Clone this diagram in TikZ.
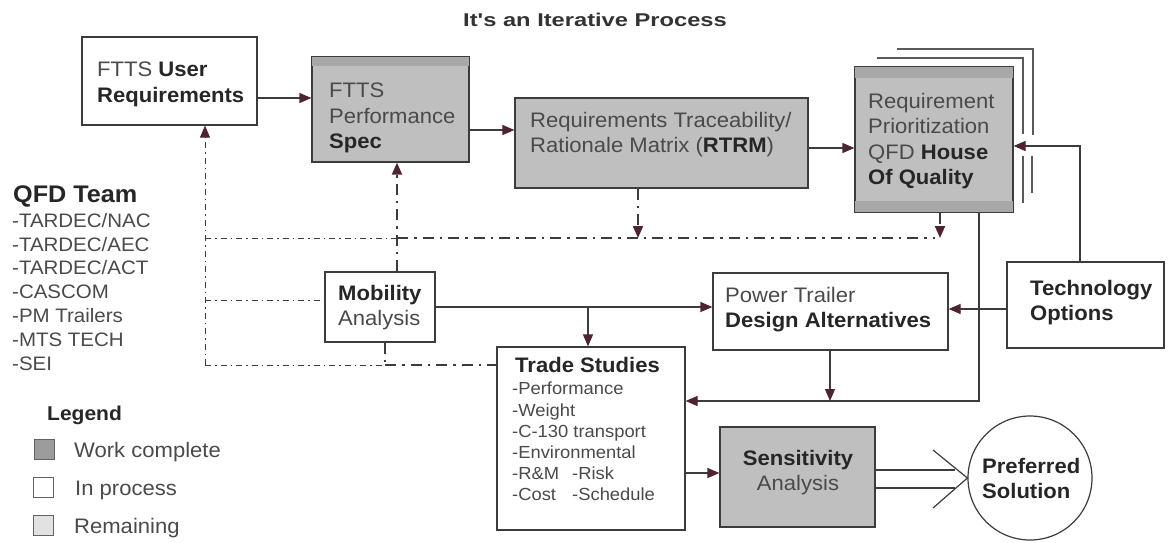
\documentclass[tikz,border=0pt]{standalone}
\usepackage{fontspec}
\setmainfont{Liberation Sans}[FakeStretch=1.05]
\newfontfamily\titlefont{Liberation Sans}[FakeStretch=1.28]
\usetikzlibrary{arrows.meta,calc}
\definecolor{txt}{HTML}{4A4A4A}
\definecolor{btxt}{HTML}{262626}
\definecolor{ttl}{HTML}{333333}
\definecolor{edge}{HTML}{3C3C3C}
\definecolor{done}{HTML}{BFBFBF}
\definecolor{donedark}{HTML}{A8A8A8}
\definecolor{legdone}{HTML}{9C9C9C}
\definecolor{arr}{HTML}{4E2433}
\definecolor{remain}{HTML}{E2E2E2}
\newcommand{\bx}[1]{{\bfseries\color{btxt}#1}}
\begin{document}
\begin{tikzpicture}[x=1pt,y=-1pt,
  box/.style={draw=edge,line width=1.2pt,inner sep=0pt,fill=white},
  donebox/.style={box,fill=done},
  lbl/.style={inner sep=0pt,align=left,text=txt,font=\fontsize{21}{25.5}\selectfont},
  conn/.style={draw=edge,line width=1.2pt},
  tip/.style={-{Triangle[length=12pt,width=10pt,color=arr]}},
  dd/.style={draw=edge,line width=0.8pt,dash pattern=on 6pt off 4pt on 1.5pt off 4pt},
  ddk/.style={draw=edge,line width=2pt,dash pattern=on 11pt off 6pt on 2.5pt off 6pt},
  frame/.style={draw=edge!85,line width=1.2pt},
  legsq/.style={draw=edge!80,line width=1pt,minimum size=20pt,inner sep=0pt},
]
\useasboundingbox[fill=white] (0,0) rectangle (1168,542);

% title
\node[anchor=base west,inner sep=0pt,font=\titlefont\bfseries\fontsize{18.5}{22}\selectfont,text=ttl] (title) at (463,26) {It's an Iterative Process};

% stacked frames behind House of Quality
\draw[frame] (877,58) -- (1023,58) -- (1023,134);
\draw[frame] (1023,156) -- (1023,203);
\draw[frame] (897,49) -- (1033,49) -- (1033,135);
\draw[frame] (1032,156) -- (1032,193);

% boxes
\node[box,minimum width=175pt,minimum height=88pt] (ur) at (169.5,81) {};
\node[donebox,minimum width=157pt,minimum height=105pt] (spec) at (390.5,109.5) {};
\node[donebox,minimum width=293pt,minimum height=90pt] (rtrm) at (661.5,143) {};
\node[donebox,minimum width=158pt,minimum height=145pt] (hoq) at (934,139.5) {};
\node[box,minimum width=110pt,minimum height=70pt] (mob) at (380,307) {};
\node[box,minimum width=235pt,minimum height=77pt] (pta) at (830.5,311.5) {};
\node[box,minimum width=157pt,minimum height=86pt] (tech) at (1085.5,305) {};
\node[box,minimum width=188pt,minimum height=183pt] (ts) at (591,438.5) {};
\node[donebox,minimum width=155pt,minimum height=100pt] (sens) at (797.5,477) {};
\node[circle,draw=edge,line width=1.2pt,minimum size=124pt,inner sep=0pt,fill=white] (pref) at (1030,478) {};

% darker strips on completed boxes
\fill[donedark] (spec.north west) rectangle ($(spec.north east)+(0,10)$);
\draw[edge,line width=1.2pt] (spec.north west) rectangle (spec.south east);
\fill[donedark] (hoq.north west) rectangle ($(hoq.north east)+(0,12)$);
\fill[donedark] ($(hoq.south west)+(0,-12)$) rectangle (hoq.south east);
\draw[edge,line width=1.2pt] (hoq.north west) rectangle (hoq.south east);

% box texts
\node[lbl,anchor=north west] (urt) at (97,62) {FTTS \bx{User}\\\bx{Requirements}};
\node[lbl,anchor=north west] (spect) at (329,83) {FTTS\\Performance\\\bx{Spec}};
\node[lbl,anchor=north west] (rtrmt) at (530,112) {Requirements Traceability/\\Rationale Matrix (\bx{RTRM})};
\node[lbl,anchor=north west] (hoqt) at (868,93) {Requirement\\Prioritization\\QFD \bx{House}\\\bx{Of Quality}};
\node[lbl,anchor=north west] (mobt) at (338,285) {\bx{Mobility}\\Analysis};
\node[lbl,anchor=north west] (ptat) at (725,287) {Power Trailer\\\bx{Design Alternatives}};
\node[lbl,anchor=north west] (techt) at (1030,280) {\bx{Technology}\\\bx{Options}};
\node[lbl,anchor=north west] (tsh) at (515,357) {\bx{Trade Studies}};
\node[lbl,anchor=north west,font=\fontsize{17.5}{21.2}\selectfont] (tsl) at (512,382)
  {-Performance\\-Weight\\-C-130 transport\\-Environmental\\\makebox[60pt][l]{-R\&M}-Risk\\\makebox[60pt][l]{-Cost}-Schedule};
\node[lbl,anchor=north,align=center] (senst) at (798,450) {\bx{Sensitivity}\\Analysis};
\node[lbl,anchor=north west] (preft) at (982,458) {\bx{Preferred}\\\bx{Solution}};

% QFD team
\node[anchor=base west,inner sep=0pt,font=\bfseries\fontsize{24}{28}\selectfont,text=btxt] (qfd) at (13,202) {QFD Team};
\node[lbl,anchor=north west,font=\fontsize{19.5}{23.8}\selectfont] (team) at (12,213)
  {-TARDEC/NAC\\-TARDEC/AEC\\-TARDEC/ACT\\-CASCOM\\-PM Trailers\\-MTS TECH\\-SEI};

% legend
\node[anchor=base west,inner sep=0pt,font=\bfseries\fontsize{20}{24}\selectfont,text=btxt] (leg) at (47,420) {Legend};
\node[legsq,fill=legdone] (sq1) at (44,449) {};
\node[legsq,fill=white] (sq2) at (43.5,487) {};
\node[legsq,fill=remain] (sq3) at (43,525) {};
\node[lbl,anchor=base west] (l1) at (74,457) {Work complete};
\node[lbl,anchor=base west] (l2) at (75,495) {In process};
\node[lbl,anchor=base west] (l3) at (74,533) {Remaining};

% solid connectors
\draw[conn,tip] (ur.east |- 0,98) -- (spec.west |- 0,98);
\draw[conn,tip] (spec.east |- 0,130) -- (rtrm.west |- 0,130);
\draw[conn,tip] (rtrm.east |- 0,148) -- (hoq.west |- 0,148);
\draw[conn,tip] (tech.north -| 1080,0) |- (hoq.east |- 0,146);
\draw[conn,tip] (tech.west |- 0,309) -- (pta.east |- 0,309);
\coordinate (tsin) at (ts.east |- 0,401);
\draw[conn,tip] (hoq.south -| 979,0) |- (tsin);
\draw[conn,tip] (pta.south -| 830,0) -- (tsin -| 830,0);
\coordinate (br) at (588,307);
\draw[conn,tip] (mob.east |- 0,307) -- (pta.west |- 0,307);
\draw[conn,tip] (br) -- (ts.north -| br);
\draw[conn,tip] (ts.east |- 0,473) -- (sens.west |- 0,473);

% double line with open chevron into preferred solution
\coordinate (c1) at (955,470);
\coordinate (c2) at (955,488);
\coordinate (v1) at (933,450);
\coordinate (v2) at (933,508);
\draw[conn] (sens.east |- c1) -- (c1);
\draw[conn] (sens.east |- c2) -- (c2);
\draw[conn] (v1) -- (pref.west) -- (v2);

% dash-dot feedback network
\coordinate (lt) at (205,238);
\coordinate (lm) at (205,300);
\coordinate (lb) at (205,365);
\coordinate (j1) at (397,238);
\coordinate (j2) at (385,365);
\coordinate (bre) at (935,238);
\draw[dd,tip] (lb) -- (ur.south -| lb);
\draw[dd] (lt) -- (j1);
\draw[ddk] (j1) -- (bre);
\draw[dd] (lm) -- (mob.west |- lm);
\draw[dd] (lb) -- (j2);
\draw[ddk] (j2) -- (ts.west |- j2);
\draw[ddk,tip] (mob.north -| j1) -- (spec.south -| j1);
\draw[ddk] (mob.south -| j2) -- (j2);
\draw[ddk,tip] (rtrm.south -| 638,0) -- (638,238);
\draw[ddk,tip] (hoq.south -| 940,0) -- (940,238);
\end{tikzpicture}
\end{document}
